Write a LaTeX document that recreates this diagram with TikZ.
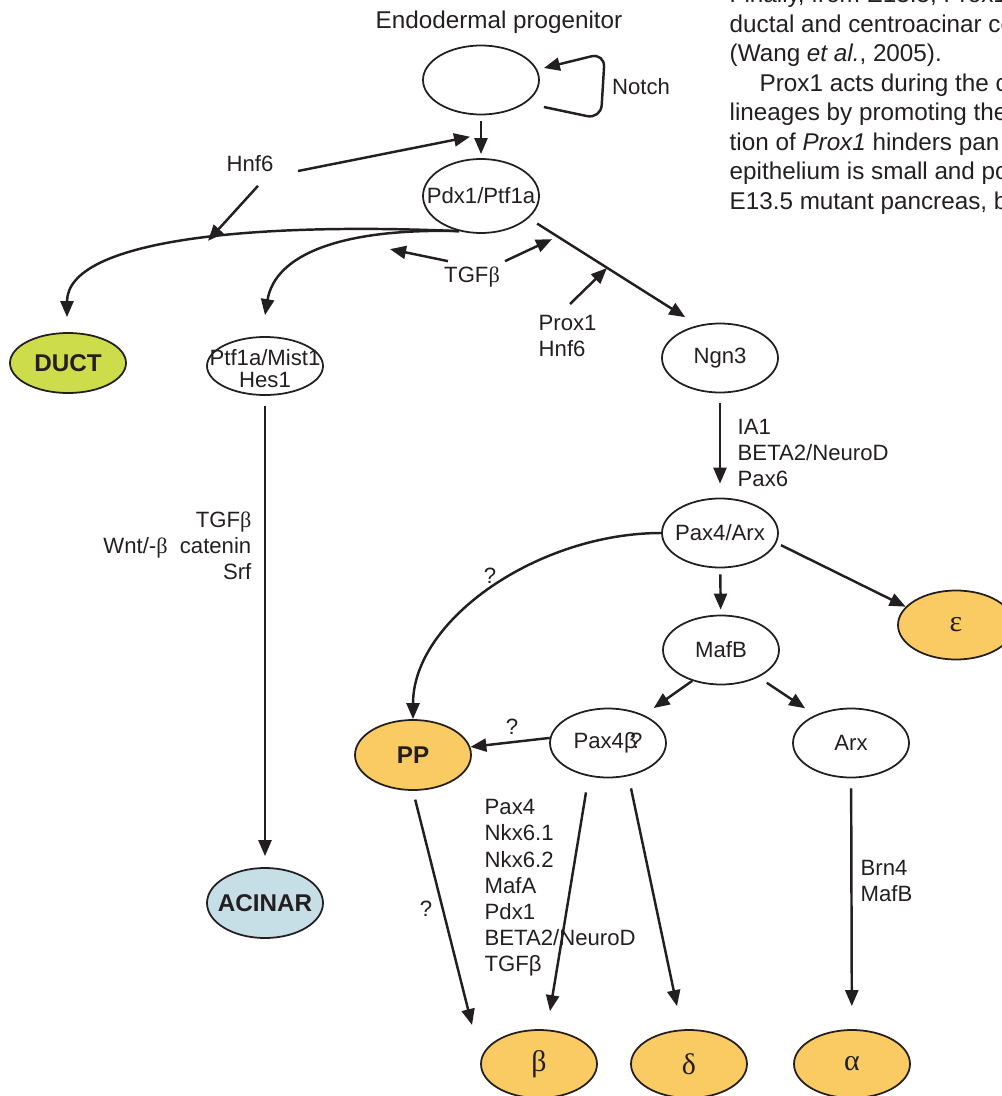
\documentclass[tikz,border=0pt]{standalone}
\usepackage{fontspec}
\setmainfont{Liberation Sans}
\newfontfamily\sgreek{Liberation Serif}
\usetikzlibrary{calc}
\usetikzlibrary{shapes.geometric}
\usetikzlibrary{arrows.meta}
\definecolor{inkColor}{HTML}{231F20}
\definecolor{ductColor}{HTML}{CDDC4B}
\definecolor{acinarColor}{HTML}{C6DFE6}
\definecolor{endoColor}{HTML}{FBCB63}
\newcommand{\nodetext}[1]{\makebox[0pt]{#1}}

\begin{document}
\begin{tikzpicture}[
			x=0.1mm, y=-0.1mm,
			cell/.style={ellipse, draw=inkColor, line width=0.5pt, minimum width=1.16cm, minimum height=0.69cm, inner sep=0pt, text=inkColor, font=\fontsize{6.3}{7.45}\selectfont},
			fate/.style={cell, font=\bfseries\fontsize{6.9}{8}\selectfont},
			cellgr/.style={cell, fill=endoColor, font=\sgreek\fontsize{8.5}{9}\selectfont},
			lbl/.style={inner sep=0pt, text=inkColor, font=\fontsize{6.3}{7.45}\selectfont},
			arr/.style={-{Triangle[length=1.6mm, width=1.3mm]}, line width=0.7pt, draw=inkColor},
			]
			\useasboundingbox (0,0) rectangle (1002,1096);
			\clip (0,0) rectangle (1002,1096);
			% cells
			\node[cell] (endo) at (481,80) {};
			\node[lbl, font=\fontsize{6.9}{8}\selectfont] (endolbl) at (499,22) {Endodermal progenitor};
			\node[cell, minimum height=0.74cm] (pdx) at (481,196) {\nodetext{Pdx1/Ptf1a}};
			\node[fate, fill=ductColor, minimum height=0.6cm] (duct) at (68,363) {DUCT};
			\node[cell, minimum height=0.58cm] (ptf) at (265,366) {};
			\node[lbl, align=center, font=\fontsize{6.3}{6.3}\selectfont] (ptflbl) at ([yshift=-0.3mm]ptf) {Ptf1a/Mist1\\Hes1};
			\node[cell] (ngn3) at (720,358) {Ngn3};
			\node[cell] (pax4arx) at (720,533) {\nodetext{Pax4/Arx}};
			\node[cellgr] (eps) at (956,625) {ε};
			\node[cell] (mafb) at (721,650) {MafB};
			\node[cell] (pax4b) at (608,743) {\nodetext{Pax4β\kern-0.3em?}};
			\node[cell] (arx) at (851,743) {Arx};
			\node[fate, fill=endoColor, minimum height=0.7cm] (pp) at (413,755) {PP};
			\node[fate, fill=acinarColor, minimum height=0.7cm] (acinar) at (265,903) {\nodetext{ACINAR}};
			\foreach \nm/\x/\g in {beta/539/β, delta/689/δ, alpha/852/α}
				\node[cellgr, minimum height=0.68cm] (\nm) at (\x,1064) {\g};
			% factors
			\node[lbl] (notch) at (641,87) {Notch};
			\node[lbl] (hnfA) at (250,164) {Hnf6};
			\node[lbl] (tgfA) at (472,277) {TGF{\sgreek β}};
			\node[lbl, anchor=west, align=left] (proxlbl) at (538,336) {Prox1\\Hnf6};
			\node[lbl, anchor=west, align=left] (ngnlbl) at (737,453) {IA1\\BETA2/NeuroD\\Pax6};
			\node[lbl, anchor=east, align=right] (acinlbl) at (252,546) {TGF{\sgreek β}\\Wnt/-{\sgreek β}\ \ catenin\\Srf};
			\node[lbl] (qA) at (490,576) {?};
			\node[lbl] (qB) at (512,727) {?};
			\node[lbl] (qC) at (426,909) {?};
			\node[lbl, anchor=west, align=left] (betalbl) at (484,888) {Pax4\\Nkx6.1\\Nkx6.2\\MafA\\Pdx1\\BETA2/NeuroD\\TGFβ};
			\node[lbl, anchor=west, align=left] (alphalbl) at (860,881) {Brn4\\MafB};
			% connectors
			\draw[arr, shorten <=0.6mm, shorten >=0.4mm] (endo) -- (pdx);
			\draw[arr, rounded corners=4pt] ([shift={(4,27)}]endo.east) -- ++(57,12) -- ++(4,-66) -- ([shift={(4,-12)}]endo.east);
			\coordinate (epmid) at ($(endo.south)!0.5!(pdx.north)+(-11,0)$);
			\draw[arr] ([shift={(24,7)}]hnfA.east) -- (epmid);
			\draw[arr] ([shift={(8,13)}]hnfA.south) -- ++(-50,55);
			\draw[arr] (pdx.-122) .. controls (250,222) and (67,240) .. ([shift={(-1,-15)}]duct.north);
			\draw[arr] (pdx.-122) .. controls (340,228) and (275,255) .. ([shift={(0,-21)}]ptf.north);
			\draw[arr] ([shift={(-24,-5)}]tgfA.north) -- ++(-58,-12);
			\draw[arr] ([shift={(33,-5)}]tgfA.north) -- ++(47,-22);
			\draw[arr, shorten <=1mm, shorten >=1.5mm] (pdx.-25) -- (ngn3.124);
			\draw[arr] ([shift={(32,-32)}]proxlbl.west) -- ++(37,-36);
			\draw[arr, shorten <=1mm, shorten >=1.4mm] (ngn3) -- (pax4arx);
			\draw[arr, shorten <=0.5mm] (pax4arx.-10) -- (eps.160);
			\draw[arr, shorten <=0.6mm, shorten >=0.5mm] (pax4arx) -- (mafb);
			\draw[arr] (pax4arx.west) .. controls +(-122,0) and +(0,-100) .. (pp.north);
			\draw[arr, shorten >=1.2mm] (mafb.-133) -- (pax4b.38);
			\draw[arr, shorten <=1mm, shorten >=1.2mm] (mafb.-36) -- (arx.142);
			\draw[arr] (pax4b.175) -- (pp.8);
			\draw[arr, shorten <=0.9mm] (pp.south) -- ([shift={(-67,-39)}]beta.center);
			\draw[arr] ([shift={(-22,14)}]pax4b.south) -- ([shift={(11,-18)}]beta.north);
			\draw[arr] ([shift={(23,10)}]pax4b.south) -- ([shift={(-12,-23)}]delta.north);
			\draw[arr, shorten <=1mm, shorten >=2.3mm] (arx) -- (alpha);
			\draw[arr, shorten <=1mm, shorten >=1.1mm] (ptf) -- (acinar);
			% running text of the page
			\foreach \txt [count=\i] in {{Finally, from E13.5, Prox1}, {ductal and centroacinar ce}, {(Wang \textit{et al.}, 2005).}, {\hspace*{3mm}Prox1 acts during the c}, {lineages by promoting the}, {tion of \textit{Prox1} hinders pan}, {epithelium is small and po}, {E13.5 mutant pancreas, b}}
				\node[lbl, anchor=base west, font=\fontsize{6.9}{8}\selectfont] (body\i) at (729,{3+29.5*(\i-1)}) {\txt};
		\end{tikzpicture}
\end{document}
